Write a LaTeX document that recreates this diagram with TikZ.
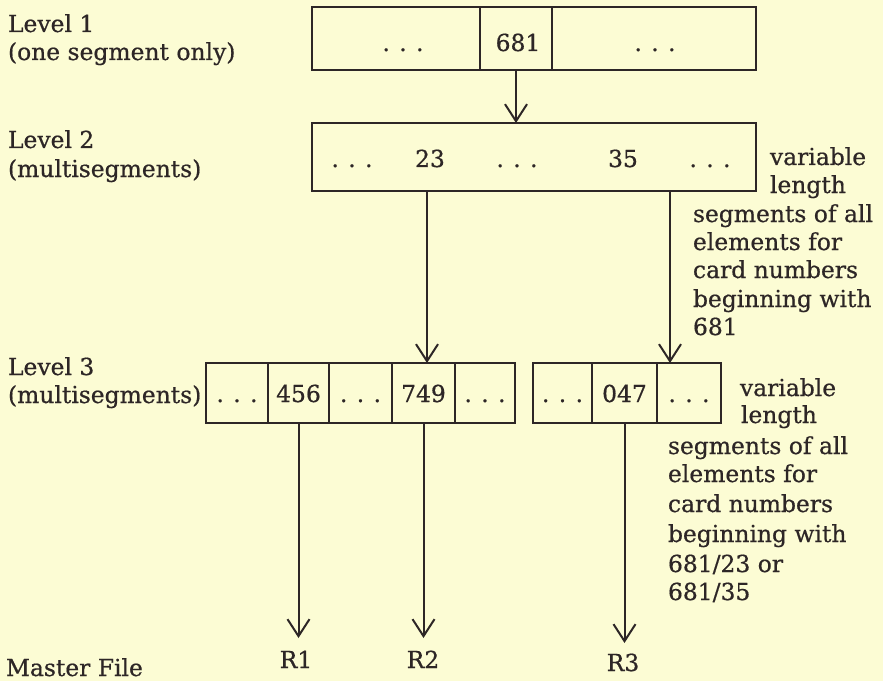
\documentclass[tikz,border=0pt]{standalone}
\usepackage{fontspec}
\setmainfont[FakeBold=0.6]{DejaVu Serif}
\usetikzlibrary{arrows.meta}
\definecolor{bg}{RGB}{252,252,212}
\definecolor{ink}{RGB}{45,38,38}
\newcommand\dotsx{.\kern0.4em.\kern0.4em.}
\begin{document}
\begin{tikzpicture}[x=1bp,y=-1bp,
  every node/.style={font=\fontsize{23.5}{28}\selectfont, text=ink, inner sep=0pt, outer sep=0pt},
  cell/.style={draw=ink, line width=2bp},
  lbl/.style={anchor=base},
  lblw/.style={anchor=base west},
  arr/.style={draw=ink, line width=2bp, -{Straight Barb[length=17bp,width=22bp]}}]
\fill[bg] (0,0) rectangle (883,681);
\useasboundingbox (0,0) rectangle (883,681);

% left labels
\node[lblw] (lv1) at (8,32) {Level 1};
\node[lblw] (lv1b) at (8,60) {(one segment only)};
\node[lblw] (lv2) at (8,148) {Level 2};
\node[lblw] (lv2b) at (8,177) {(multisegments)};
\node[lblw] (lv3) at (8,375) {Level 3};
\node[lblw] (lv3b) at (8,403) {(multisegments)};
\node[lblw] (mf) at (6,676) {Master File};

% level 1
\node[cell, minimum width=168bp, minimum height=63bp] (l1a) at (396,38.5) {};
\node[cell, minimum width=72bp, minimum height=63bp] (l1b) at (516,38.5) {};
\node[cell, minimum width=204bp, minimum height=63bp] (l1c) at (654,38.5) {};
\node[lbl] (t1a) at (403,51) {\dotsx};
\node[lbl] (t1b) at (518,51) {681};
\node[lbl] (t1c) at (655,51) {\dotsx};

% level 2
\node[cell, minimum width=444bp, minimum height=68bp] (l2) at (534,157) {};
\node[lbl] (t2a) at (352,167) {\dotsx};
\node[lbl] (t2b) at (430,167) {23};
\node[lbl] (t2c) at (517,167) {\dotsx};
\node[lbl] (t2d) at (623,167) {35};
\node[lbl] (t2e) at (710,167) {\dotsx};

% level 3 left
\node[cell, minimum width=62bp, minimum height=60bp] (l3a) at (237,393) {};
\node[cell, minimum width=61bp, minimum height=60bp] (l3b) at (298.5,393) {};
\node[cell, minimum width=63bp, minimum height=60bp] (l3c) at (360.5,393) {};
\node[cell, minimum width=63bp, minimum height=60bp] (l3d) at (423.5,393) {};
\node[cell, minimum width=60bp, minimum height=60bp] (l3e) at (485,393) {};
\node[lbl] (t3a) at (237,402) {\dotsx};
\node[lbl] (t3b) at (298.5,402) {456};
\node[lbl] (t3c) at (360.5,402) {\dotsx};
\node[lbl] (t3d) at (423.5,402) {749};
\node[lbl] (t3e) at (485,402) {\dotsx};

% level 3 right
\node[cell, minimum width=59bp, minimum height=60bp] (r3a) at (562.5,393) {};
\node[cell, minimum width=65bp, minimum height=60bp] (r3b) at (624.5,393) {};
\node[cell, minimum width=64bp, minimum height=60bp] (r3c) at (689,393) {};
\node[lbl] (u3a) at (562.5,402) {\dotsx};
\node[lbl] (u3b) at (624.5,402) {047};
\node[lbl] (u3c) at (689,402) {\dotsx};

% side notes 1
\node[lblw] (n1a) at (770,165) {variable};
\node[lblw] (n1b) at (770,193) {length};
\node[lblw] (n1c) at (693,222) {segments of all};
\node[lblw] (n1d) at (693,250) {elements for};
\node[lblw] (n1e) at (693,278) {card numbers};
\node[lblw] (n1f) at (693,307) {beginning with};
\node[lblw] (n1g) at (693,335) {681};

% side notes 2
\node[lblw] (n2a) at (740,396) {variable};
\node[lblw] (n2b) at (741,423) {length};
\node[lblw] (n2c) at (668,454) {segments of all};
\node[lblw] (n2d) at (668,482) {elements for};
\node[lblw] (n2e) at (668,512) {card numbers};
\node[lblw] (n2f) at (668,542) {beginning with};
\node[lblw] (n2g) at (668,572) {681/23 or};
\node[lblw] (n2h) at (668,600) {681/35};

% results
\node[lbl] (R1) at (296,668) {R1};
\node[lbl] (R2) at (423,668) {R2};
\node[lbl] (R3) at (623,671) {R3};

% connectors
\coordinate (p23) at (427,191);
\coordinate (p35) at (670,191);
\coordinate (e1) at (298.5,638);
\coordinate (e2) at (423.5,638);
\coordinate (e3) at (624.5,643);
\draw[arr] (l1b.south) -- (l1b.south |- l2.north);
\draw[arr] (p23) -- (p23 |- l3d.north);
\draw[arr] (p35) -- (p35 |- r3c.north);
\draw[arr] (l3b.south) -- (e1);
\draw[arr] (l3d.south) -- (e2);
\draw[arr] (r3b.south) -- (e3);
\end{tikzpicture}
\end{document}
